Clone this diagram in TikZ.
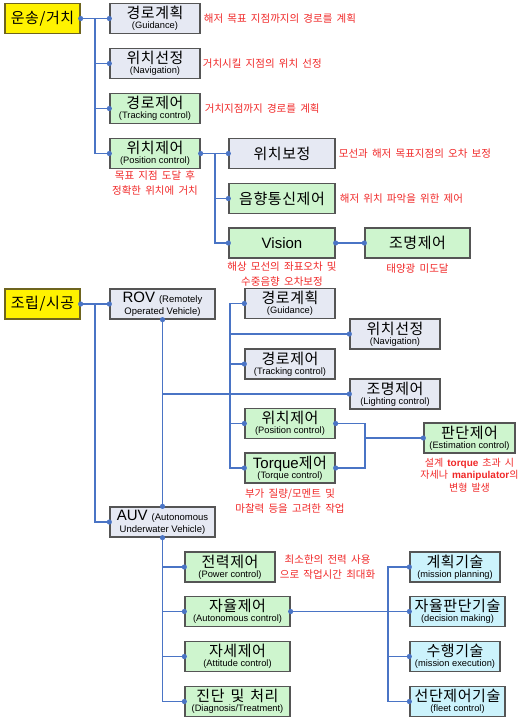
\documentclass[tikz,border=0pt]{standalone}
\usepackage{fontspec}
\setmainfont{Liberation Sans}
\newfontfamily\kr[WordSpace=1.8]{Noto Sans CJK KR}
\newfontfamily\krbox[LetterSpace=4,WordSpace=1.5]{Noto Sans CJK KR}
\usetikzlibrary{positioning}
\definecolor{linkblue}{RGB}{74,116,197}
\definecolor{notered}{RGB}{240,40,40}
\definecolor{boxgray}{RGB}{230,233,243}
\definecolor{boxgreen}{RGB}{206,245,206}
\definecolor{boxcyan}{RGB}{204,243,252}
\definecolor{edgegray}{RGB}{85,85,85}
\definecolor{edgeolive}{RGB}{110,100,30}
\newcommand{\kortxt}[1]{{\krbox\fontsize{15}{10}\selectfont #1}}
\newcommand{\subtxt}[1]{{\fontsize{9.3}{10}\selectfont #1}}
\newcommand{\twoline}[2]{\kortxt{#1}\\\subtxt{#2}}
\newcommand{\latbf}[1]{{\normalfont\bfseries #1}}
\tikzset{
  basebox/.style={draw=edgegray,line width=1.3pt,minimum height=30,inner sep=1pt,
    align=center,font=\fontsize{14}{10}\selectfont},
  graybox/.style={basebox,fill=boxgray},
  greenbox/.style={basebox,fill=boxgreen},
  cyanbox/.style={basebox,fill=boxcyan},
  topbox/.style={basebox,fill=yellow,draw=edgeolive,minimum width=75},
  link/.style={draw=linkblue,line width=1.2pt},
  joint/.style={fill=linkblue},
  note/.style={text=notered,font=\kr\fontsize{10.5}{15}\selectfont,align=center,inner sep=0pt},
}
\begin{document}
\begin{tikzpicture}[x=1pt,y=-1pt]
    \useasboundingbox (0,0) rectangle (522,721);
    % bus lines, x positions only
    \coordinate (busA) at (95,0);
    \coordinate (busB) at (215,0);
    \coordinate (busC) at (230,0);
    \coordinate (busD) at (365,0);
    \coordinate (busE) at (388,0);
    % upper tree: transport and placement
    \node[topbox] (trans) at (42.5,18.5) {\kortxt{운송/거치}};
    \node[graybox,minimum width=90] (guide) at (155,18.5) {\twoline{경로계획}{(Guidance)}};
    \node[graybox,minimum width=90] (navi) at (155,63.5) {\twoline{위치선정}{(Navigation)}};
    \node[greenbox,minimum width=90] (track) at (155,108.5) {\twoline{경로제어}{(Tracking control)}};
    \node[greenbox,minimum width=90] (posi) at (155,153.5) {\twoline{위치제어}{(Position control)}};
    \node[graybox,minimum width=106] (corr) at (282,153.5) {\kortxt{위치보정}};
    \node[greenbox,minimum width=106] (acou) at (282,198.5) {\kortxt{음향통신제어}};
    \node[greenbox,minimum width=106] (vision) at (282,243) {{\fontsize{15}{10}\selectfont Vision}};
    \node[greenbox,minimum width=105] (light) at (417.5,243) {\kortxt{조명제어}};
    % notes of the upper tree
    \node[note,right=3pt of guide] (guidenote) {해저 목표 지점까지의 경로를 계획};
    \node[note,right=2pt of navi] (navinote) {거치시킬 지점의 위치 선정};
    \node[note,right=4pt of track] (tracknote) {거치지점까지 경로를 계획};
    \node[note,below=1pt of posi] (posinote) {목표 지점 도달 후\\정확한 위치에 거치};
    \node[note,right=3pt of corr] (corrnote) {모선과 해저 목표지점의 오차 보정};
    \node[note,right=4pt of acou] (acounote) {해저 위치 파악을 위한 제어};
    \node[note,below=3pt of vision] (visionnote) {해상 모선의 좌표오차 및\\수중음향 오차보정};
    \node[note,below=5pt of light] (lightnote) {태양광 미도달};
    % lower tree: assembly and construction
    \node[topbox] (build) at (42.5,304) {\kortxt{조립/시공}};
    \node[graybox,minimum width=105] (rov) at (162.5,304)
        {{\fontsize{15}{10}\selectfont ROV} {\fontsize{9.5}{12}\selectfont (Remotely}\\[2pt]{\fontsize{9.5}{12}\selectfont Operated Vehicle)}};
    \node[graybox,minimum width=105] (auv) at (162.5,522)
        {{\fontsize{15}{10}\selectfont AUV} {\fontsize{9.5}{12}\selectfont (Autonomous}\\[2pt]{\fontsize{9.5}{12}\selectfont Underwater Vehicle)}};
    \node[graybox,minimum width=90] (guide2) at (290,303.5) {\twoline{경로계획}{(Guidance)}};
    \node[graybox,minimum width=90] (navi2) at (395,334) {\twoline{위치선정}{(Navigation)}};
    \node[graybox,minimum width=90] (track2) at (290,364) {\twoline{경로제어}{(Tracking control)}};
    \node[graybox,minimum width=90] (light2) at (395,394) {\twoline{조명제어}{(Lighting control)}};
    \node[greenbox,minimum width=90] (posi2) at (290,423.5) {\twoline{위치제어}{(Position control)}};
    \node[greenbox,minimum width=90] (torque) at (290,468) {{\fontsize{15}{10}\selectfont Torque}\kortxt{제어}\\\subtxt{(Torque control)}};
    \node[greenbox,minimum width=91] (est) at (469.5,438) {\twoline{판단제어}{(Estimation control)}};
    \node[greenbox,minimum width=90] (power) at (230,567) {\twoline{전력제어}{(Power control)}};
    \node[greenbox,minimum width=105] (auto) at (237.5,611.5) {\twoline{자율제어}{(Autonomous control)}};
    \node[greenbox,minimum width=105] (atti) at (237.5,656.5) {\twoline{자세제어}{(Attitude control)}};
    \node[greenbox,minimum width=105] (diag) at (237.5,701.5) {\twoline{진단 및 처리}{(Diagnosis/Treatment)}};
    \node[cyanbox,minimum width=90] (plan) at (455,567) {\twoline{계획기술}{(mission planning)}};
    \node[cyanbox,minimum width=95] (decide) at (457.5,611.5) {\twoline{자율판단기술}{(decision making)}};
    \node[cyanbox,minimum width=90] (exec) at (455,656.5) {\twoline{수행기술}{(mission execution)}};
    \node[cyanbox,minimum width=95] (fleet) at (457.5,701.5) {\twoline{선단제어기술}{(fleet control)}};
    % notes of the lower tree
    \node[note,below=5pt of torque] (torquenote) {부가 질량/모멘트 및\\마찰력 등을 고려한 작업};
    \node[note,below=4pt of est,font=\kr\fontsize{10}{12.5}\selectfont] (estnote)
        {설계 \latbf{torque} 초과 시\\자세나 \latbf{manipulator}의\\변형 발생};
    \node[note,right=4pt of power] (powernote) {최소한의 전력 사용\\으로 작업시간 최대화};
    % connectors
    \foreach \n in {guide,navi,track,posi}
        \draw[link] (trans.east) -- (trans.east -| busA) |- (\n.west);
    \foreach \n in {corr,acou,vision}
        \draw[link] (posi.east) -- (posi.east -| busB) |- (\n.west);
    \draw[link] (vision.east) -- (light.west);
    \foreach \n in {rov,auv}
        \draw[link] (build.east) -- (build.east -| busA) |- (\n.west);
    \draw[link] (rov.south) -- (auv.north);
    \draw[link] (rov.south |- light2.west) -- (light2.west);
    \foreach \n in {guide2,navi2,track2,posi2,torque}
        \draw[link] (light2.west -| busC) |- (\n.west);
    \foreach \n in {posi2,torque}
        \draw[link] (\n.east) -| (busD |- est.west) -- (est.west);
    \foreach \n in {power,auto,atti,diag}
        \draw[link] (auv.south) |- (\n.west);
    \foreach \n in {plan,decide,exec,fleet}
        \draw[link] (auto.east) -- (auto.east -| busE) |- (\n.west);
    % joints on the box edges
    \foreach \p in {trans.east,guide.west,navi.west,track.west,posi.west,posi.east,
        corr.west,acou.west,vision.west,vision.east,light.west,build.east,rov.west,
        rov.south,auv.west,auv.north,auv.south,guide2.west,navi2.west,track2.west,
        light2.west,posi2.west,posi2.east,torque.west,torque.east,est.west,power.west,
        auto.west,auto.east,atti.west,diag.west,plan.west,decide.west,exec.west,fleet.west}
        \fill[joint] (\p) circle (2.6pt);
\end{tikzpicture}
\end{document}
